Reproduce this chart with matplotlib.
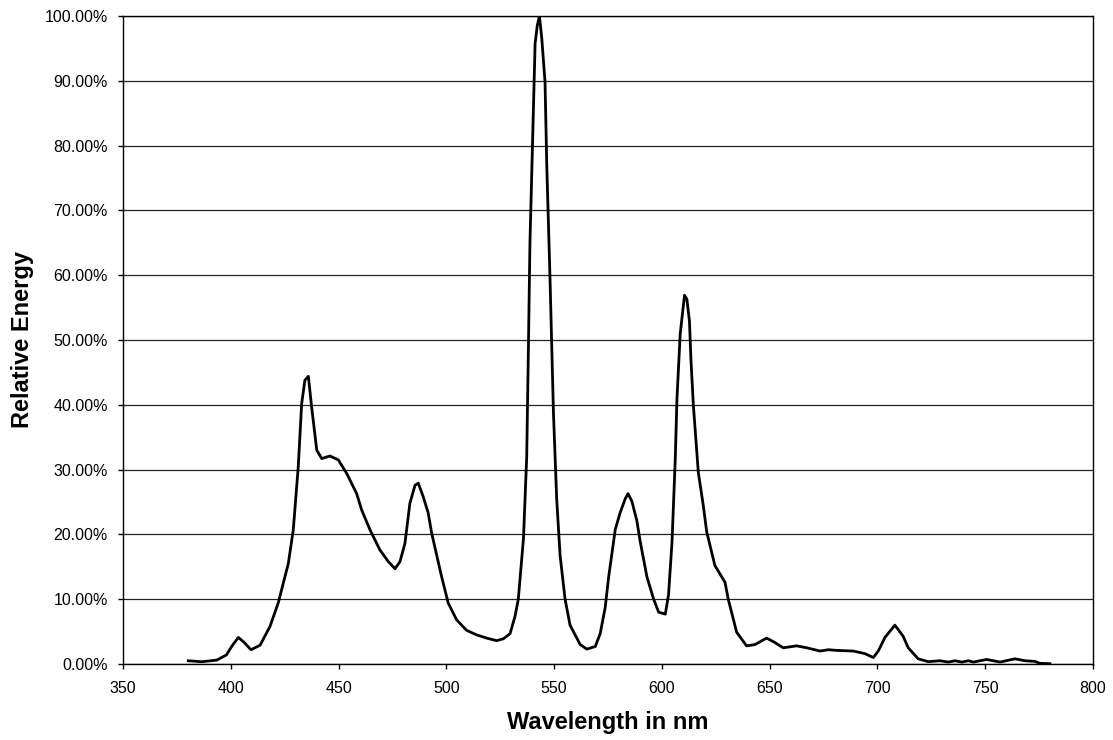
import numpy as np
import matplotlib.pyplot as plt
from matplotlib.ticker import FuncFormatter, MultipleLocator

# spectrum (nm, relative energy in %)
wavelength = [380.3, 386.5, 393.5, 398.0, 400.4, 403.5, 406.0, 409.4, 413.6, 418.2,
              422.0, 426.7, 429.0, 431.3, 432.9, 434.4, 436.0, 437.5, 439.9, 442.2,
              446.0, 449.9, 453.8, 458.4, 460.7, 464.6, 469.2, 473.1, 476.2, 478.5,
              480.8, 483.1, 485.5, 487.0, 489.3, 491.6, 493.2, 497.8, 500.9, 504.8,
              509.4, 514.0, 518.7, 523.4, 526.5, 529.6, 531.9, 533.4, 535.8, 537.3,
              538.1, 538.8, 539.9, 541.2, 542.2, 543.2, 544.3, 545.8, 546.6, 548.1,
              549.7, 551.2, 552.8, 555.1, 557.4, 562.1, 565.2, 569.1, 571.4, 573.7,
              575.3, 578.4, 580.7, 583.0, 584.3, 586.1, 588.4, 590.0, 593.1, 596.2,
              598.5, 601.6, 603.1, 604.7, 606.2, 607.0, 608.5, 610.5, 611.6, 612.8,
              613.5, 614.6, 616.9, 619.2, 620.8, 624.6, 629.3, 630.8, 634.7, 639.3,
              643.2, 648.6, 652.5, 656.3, 662.5, 667.2, 673.4, 677.2, 681.1, 688.8,
              694.2, 698.1, 700.4, 703.5, 708.1, 711.9, 714.3, 718.9, 723.6, 729.0,
              732.9, 736.0, 739.1, 742.2, 744.5, 750.7, 756.9, 763.8, 768.5, 773.1,
              775.4, 780.0]
energy = [0.5, 0.35, 0.6, 1.4, 2.7, 4.1, 3.4, 2.2, 2.9, 5.8,
          9.4, 15.5, 20.7, 30.4, 40.2, 43.8, 44.4, 39.7, 33.0, 31.7,
          32.1, 31.5, 29.4, 26.3, 23.8, 20.7, 17.6, 15.8, 14.7, 15.8,
          18.6, 24.8, 27.6, 27.9, 25.8, 23.3, 20.2, 13.5, 9.4, 6.8,
          5.2, 4.5, 4.0, 3.6, 3.9, 4.7, 7.4, 10.0, 19.4, 32.0,
          49.0, 65.0, 79.0, 95.8, 98.5, 100.0, 96.5, 89.8, 77.0, 59.6,
          38.8, 25.5, 16.7, 10.0, 6.0, 3.0, 2.3, 2.7, 4.7, 8.7,
          13.4, 20.8, 23.4, 25.5, 26.3, 25.1, 22.1, 18.8, 13.4, 10.0,
          8.0, 7.7, 10.7, 18.8, 31.5, 40.9, 50.9, 56.9, 56.3, 52.9,
          46.9, 40.0, 29.6, 24.5, 20.4, 15.2, 12.6, 10.0, 4.9, 2.8,
          3.0, 4.0, 3.3, 2.5, 2.8, 2.5, 2.0, 2.2, 2.1, 2.0,
          1.6, 1.0, 2.0, 4.1, 6.0, 4.3, 2.5, 0.8, 0.36, 0.5,
          0.3, 0.5, 0.3, 0.5, 0.3, 0.7, 0.3, 0.8, 0.5, 0.4,
          0.1, 0.05]

x_ticks = [350, 400, 450, 500, 550, 600, 650, 700, 750, 800]

plt.rcParams['font.family'] = ['Liberation Sans', 'DejaVu Sans']

fig = plt.figure(figsize=(11.13, 7.40), dpi=100)
ax = fig.add_axes([0.1105, 0.1027, 0.8715, 0.8757])

ax.plot(wavelength, np.array(energy) / 100.0, color='black', linewidth=2.0,
        solid_joinstyle='round')

ax.set_xlim(350, 800)
ax.set_ylim(0, 1.0)
ax.set_xticks(x_ticks)
ax.yaxis.set_major_locator(MultipleLocator(0.1))
ax.yaxis.set_major_formatter(FuncFormatter(lambda v, p: f"{v * 100:.2f}%"))

ax.grid(axis='y', color='#222222', linewidth=0.9)
ax.set_axisbelow(True)
for s in ax.spines.values():
    s.set_color('black')
    s.set_linewidth(1.0)

ax.tick_params(axis='both', direction='out', length=3.6, width=1, color='black',
               labelsize=11.5)
ax.tick_params(axis='x', pad=8.5)
ax.tick_params(axis='y', pad=7.2)

ax.set_xlabel('Wavelength in nm', fontsize=17, fontweight='bold', va='center')
ax.set_ylabel('Relative Energy', fontsize=17, fontweight='bold', va='center')
ax.xaxis.set_label_coords(0.5, -0.091)
ax.yaxis.set_label_coords(-0.104, 0.5)

fig.savefig('out.png', dpi=100)
